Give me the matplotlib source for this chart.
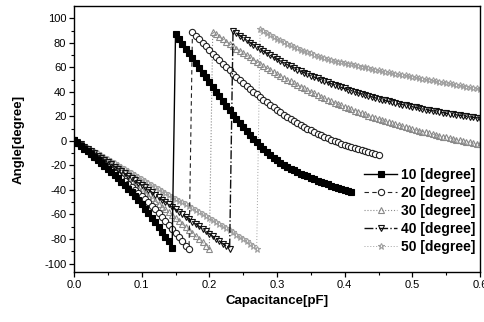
import numpy as np
import matplotlib
matplotlib.use("Agg")
import matplotlib.pyplot as plt

plt.rcParams['font.family'] = ['Liberation Sans', 'DejaVu Sans']
plt.rcParams['axes.unicode_minus'] = False

# sampling step of the measured curves (pF)
step = 0.005

labels = ["10 [degree]", "20 [degree]", "30 [degree]", "40 [degree]", "50 [degree]"]

# each curve: branch below the jump (starts at 0 pF) and branch above it
start_10 = 0.150
low_10 = [1.0, -1.4, -3.8, -6.2, -8.6, -11.0, -13.4, -15.8, -18.2, -20.6,
          -23.0, -25.5, -28.0, -30.6, -33.3, -36.1, -39.0, -42.0, -45.1, -48.4,
          -51.8, -55.3, -58.9, -62.6, -66.4, -70.2, -74.1, -78.0, -82.0, -87.0]
up_10 = [87.0, 83.1, 79.2, 75.3, 71.4, 67.5, 63.6, 59.7, 55.8, 51.9,
         48.0, 44.1, 40.2, 36.3, 32.5, 28.7, 25.0, 21.4, 17.9, 14.5,
         11.2, 8.0, 4.9, 1.9, -1.0, -3.8, -6.5, -9.0, -11.4, -13.6,
         -15.7, -17.6, -19.4, -21.1, -22.6, -24.0, -25.3, -26.6, -27.8, -29.0,
         -30.2, -31.3, -32.4, -33.5, -34.5, -35.5, -36.5, -37.5, -38.4, -39.3,
         -40.2, -41.1, -42.0]

start_20 = 0.175
low_20 = [1.0, -1.3, -3.6, -5.9, -8.2, -10.5, -12.7, -14.9, -17.1, -19.3,
          -21.5, -23.7, -25.9, -28.1, -30.4, -32.7, -35.0, -37.4, -39.8, -42.3,
          -44.8, -47.4, -50.1, -52.9, -55.8, -58.8, -61.9, -65.1, -68.4, -71.8,
          -75.2, -78.6, -82.0, -85.4, -88.5]
up_20 = [89.0, 86.0, 83.0, 80.0, 77.1, 74.2, 71.3, 68.5, 65.7, 62.9,
         60.2, 57.5, 54.9, 52.3, 49.8, 47.3, 44.9, 42.5, 40.2, 37.9,
         35.7, 33.5, 31.4, 29.3, 27.3, 25.3, 23.4, 21.5, 19.7, 18.0,
         16.3, 14.7, 13.1, 11.6, 10.1, 8.7, 7.3, 6.0, 4.7, 3.5,
         2.3, 1.1, 0.0, -1.1, -2.1, -3.1, -4.1, -5.0, -5.9, -6.8,
         -7.6, -8.4, -9.2, -9.9, -10.6, -11.3]

start_30 = 0.205
low_30 = [1.0, -1.1, -3.2, -5.3, -7.4, -9.5, -11.5, -13.5, -15.5, -17.5,
          -19.5, -21.5, -23.5, -25.5, -27.6, -29.7, -31.8, -33.9, -36.0, -38.1,
          -40.2, -42.4, -44.6, -46.8, -49.0, -51.2, -53.5, -55.8, -58.1, -60.4,
          -62.8, -65.2, -67.6, -70.1, -72.6, -75.1, -77.6, -80.2, -82.8, -85.4,
          -88.0]
up_30 = [89.0, 87.0, 85.0, 83.0, 81.1, 79.2, 77.3, 75.4, 73.5, 71.7,
         69.9, 68.1, 66.3, 64.6, 62.9, 61.2, 59.5, 57.9, 56.3, 54.7,
         53.1, 51.6, 50.1, 48.6, 47.1, 45.7, 44.3, 42.9, 41.5, 40.1,
         38.8, 37.5, 36.2, 34.9, 33.7, 32.5, 31.3, 30.1, 29.0, 27.9,
         26.8, 25.7, 24.7, 23.7, 22.7, 21.7, 20.7, 19.8, 18.9, 18.0,
         17.1, 16.2, 15.3, 14.5, 13.7, 12.9, 12.1, 11.3, 10.5, 9.7,
         9.0, 8.3, 7.6, 6.9, 6.2, 5.5, 4.8, 4.1, 3.5, 2.9,
         2.3, 1.7, 1.1, 0.5, -0.1, -0.7, -1.2, -1.7, -2.2, -2.7]

start_40 = 0.235
low_40 = [1.0, -0.9, -2.8, -4.7, -6.5, -8.3, -10.1, -11.9, -13.7, -15.5,
          -17.3, -19.1, -20.9, -22.7, -24.6, -26.5, -28.4, -30.3, -32.2, -34.1,
          -36.0, -37.9, -39.8, -41.8, -43.8, -45.8, -47.8, -49.8, -51.8, -53.8,
          -55.8, -57.8, -59.8, -61.8, -63.8, -65.8, -67.8, -69.8, -71.8, -73.8,
          -75.8, -77.8, -79.8, -81.8, -83.8, -85.9, -88.0]
up_40 = [90.0, 88.0, 86.0, 84.1, 82.2, 80.3, 78.5, 76.7, 74.9, 73.2,
         71.5, 69.9, 68.3, 66.7, 65.2, 63.7, 62.3, 60.9, 59.5, 58.2,
         56.9, 55.7, 54.5, 53.3, 52.1, 51.0, 49.9, 48.8, 47.7, 46.7,
         45.7, 44.7, 43.7, 42.8, 41.9, 41.0, 40.1, 39.2, 38.4, 37.6,
         36.8, 36.0, 35.2, 34.4, 33.7, 33.0, 32.3, 31.6, 30.9, 30.3,
         29.7, 29.1, 28.5, 27.9, 27.3, 26.7, 26.1, 25.6, 25.1, 24.6,
         24.1, 23.6, 23.1, 22.6, 22.1, 21.7, 21.3, 20.9, 20.5, 20.1,
         19.7, 19.3, 18.9, 18.5]

start_50 = 0.275
low_50 = [1.0, -0.6, -2.2, -3.8, -5.4, -7.0, -8.6, -10.2, -11.8, -13.4,
          -15.0, -16.6, -18.2, -19.8, -21.4, -23.0, -24.6, -26.2, -27.8, -29.4,
          -31.0, -32.6, -34.2, -35.8, -37.4, -39.0, -40.6, -42.2, -43.8, -45.4,
          -47.0, -48.6, -50.2, -51.8, -53.4, -55.0, -56.6, -58.2, -59.8, -61.4,
          -63.0, -64.6, -66.2, -67.8, -69.5, -71.2, -72.9, -74.6, -76.4, -78.2,
          -80.0, -82.0, -84.0, -86.0, -88.0]
up_50 = [91.0, 89.4, 87.9, 86.4, 84.9, 83.5, 82.1, 80.8, 79.5, 78.2,
         77.0, 75.8, 74.6, 73.5, 72.4, 71.4, 70.4, 69.4, 68.5, 67.6,
         66.8, 66.0, 65.4, 64.8, 64.2, 63.6, 63.0, 62.4, 61.8, 61.2,
         60.6, 60.0, 59.4, 58.8, 58.2, 57.6, 57.0, 56.4, 55.9, 55.4,
         54.9, 54.4, 53.9, 53.4, 52.9, 52.4, 51.9, 51.4, 50.9, 50.4,
         49.9, 49.4, 48.9, 48.4, 47.9, 47.4, 46.9, 46.4, 45.9, 45.4,
         44.9, 44.4, 43.9, 43.4, 42.9, 42.4]

series = [
    (low_10, up_10, start_10, dict(color="black", marker="s", ms=4, mfc="black", ls="-", lw=1.0)),
    (low_20, up_20, start_20, dict(color="#222222", marker="o", ms=4.5, mfc="white", ls=(0, (4, 3)), lw=0.8)),
    (low_30, up_30, start_30, dict(color="#8a8a8a", marker="^", ms=4, mfc="none", ls=":", lw=0.8)),
    (low_40, up_40, start_40, dict(color="#111111", marker="v", ms=4.5, mfc="none", ls="-.", lw=1.0)),
    (low_50, up_50, start_50, dict(color="#a0a0a0", marker="*", ms=4.5, mfc="none", ls=(0, (1, 2)), lw=0.7)),
]

fig = plt.figure(figsize=(4.85, 3.22), dpi=100)
ax = fig.add_axes([0.1526, 0.155, 0.8371, 0.826])

handles = [None] * 5
for i in [4, 2, 1, 3, 0]:
    low, up, c0, style = series[i]
    x = np.concatenate([np.arange(len(low)) * step, c0 + np.arange(len(up)) * step])
    y = np.concatenate([low, up])
    h, = ax.plot(x, y, mew=0.8, label=labels[i], **style)
    handles[i] = h

ax.set_xlim(0, 0.6)
ax.set_ylim(-107, 110)
ax.set_xticks(np.arange(0, 0.61, 0.1))
ax.set_xticklabels(["0.0", "0.1", "0.2", "0.3", "0.4", "0.5", "0.6"])
ax.set_xticks(np.arange(0.05, 0.6, 0.1), minor=True)
ax.set_yticks(np.arange(-100, 101, 20))
ax.set_yticks(np.arange(-90, 101, 20), minor=True)
ax.tick_params(which="major", direction="out", length=3.5, width=0.9, labelsize=8, pad=2)
ax.tick_params(which="minor", direction="out", length=2, width=0.8)
for s in ax.spines.values():
    s.set_linewidth(1.0)

ax.set_xlabel("Capacitance[pF]", fontsize=9.5, fontweight="bold", labelpad=4)
ax.set_ylabel("Angle[degree]", fontsize=9.5, fontweight="bold", labelpad=14)

leg = ax.legend(handles=handles, loc="center right", bbox_to_anchor=(1.0, 0.23),
                frameon=False, numpoints=1, fontsize=10, handlelength=2.4,
                handletextpad=0.3, labelspacing=0.3, borderaxespad=0.2, borderpad=0.1)
for t in leg.get_texts():
    t.set_fontweight("bold")

fig.savefig("out.png", dpi=100)
